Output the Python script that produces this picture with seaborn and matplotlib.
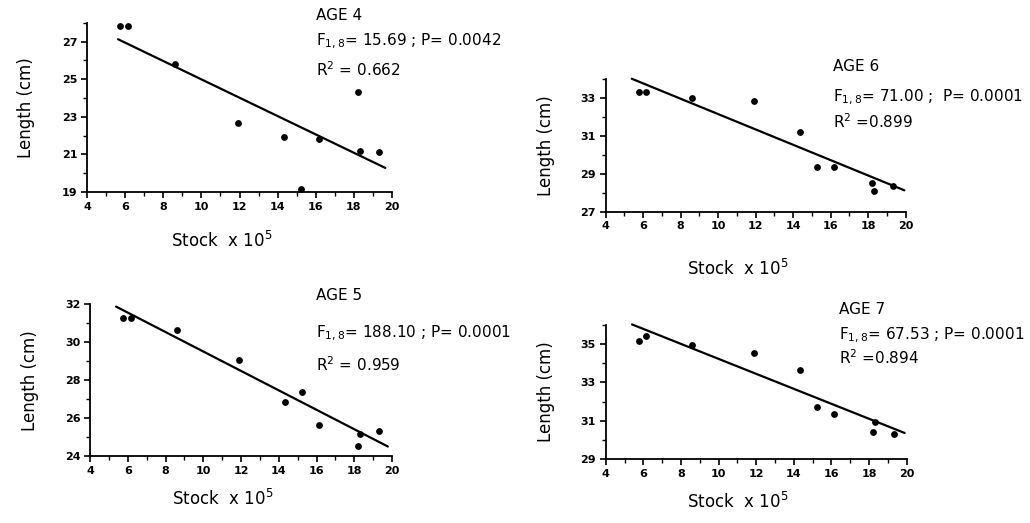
import matplotlib
matplotlib.use("Agg")
import matplotlib.pyplot as plt
from matplotlib.ticker import MultipleLocator
import seaborn as sns
import pandas as pd

sns.set_theme(style="ticks")
plt.rcParams['font.family'] = ['DejaVu Sans']
plt.rcParams['text.color'] = 'black'
plt.rcParams['axes.labelcolor'] = 'black'
plt.rcParams['xtick.color'] = 'black'
plt.rcParams['ytick.color'] = 'black'

# ---- data ----
stock = [5.75, 6.15, 8.6, 11.9, 14.35, 15.25, 16.15, 18.2, 18.3, 19.3]

length_age4 = [27.85, 27.85, 25.8, 22.65, 21.95, 19.15, 21.8, 24.3, 21.2, 21.1]
length_age5 = [31.3, 31.3, 30.65, 29.07, 26.84, 27.36, 25.63, 24.55, 25.16, 25.32]
length_age6 = [33.35, 33.35, 33.0, 32.86, 31.2, 29.37, 29.35, 28.51, 28.07, 28.37]
length_age7 = [35.17, 35.45, 34.93, 34.56, 33.67, 31.71, 31.36, 30.4, 30.93, 30.3]

fit_x_age4 = [5.63, 19.65]
fit_y_age4 = [27.12, 20.28]
fit_x_age5 = [5.38, 19.78]
fit_y_age5 = [31.88, 24.5]
fit_x_age6 = [5.39, 19.93]
fit_y_age6 = [34.03, 28.13]
fit_x_age7 = [5.4, 19.89]
fit_y_age7 = [36.03, 30.36]

titles = ["AGE 4", "AGE 6", "AGE 5", "AGE 7"]
f_texts = [r"F$_{1,8}$= 15.69 ; P= 0.0042",
           r"F$_{1,8}$= 71.00 ;  P= 0.0001",
           r"F$_{1,8}$= 188.10 ; P= 0.0001",
           r"F$_{1,8}$= 67.53 ; P= 0.0001"]
r2_texts = [r"R$^2$ = 0.662", r"R$^2$ =0.899", r"R$^2$ = 0.959", r"R$^2$ =0.894"]
ylims = [(19, 28), (27, 34), (24, 32), (29, 36)]
xlim = (4, 20)

lengths = [length_age4, length_age6, length_age5, length_age7]
fit_xs = [fit_x_age4, fit_x_age6, fit_x_age5, fit_x_age7]
fit_ys = [fit_y_age4, fit_y_age6, fit_y_age5, fit_y_age7]

# ---- layout ----
W, H = 1030, 523
fig = plt.figure(figsize=(W / 100, H / 100), dpi=100)
fig.patch.set_facecolor("white")

boxes_px = [  # left, right, top, bottom in pixels
    (87, 392, 22.7, 192),
    (605.7, 905.7, 79.3, 211.7),
    (90, 392, 304.3, 456),
    (605.7, 906.7, 325, 459),
]
text_pos = [  # x frac, y title, y F, y R2
    (0.751, 1.04, 0.888, 0.722),
    (0.758, 1.093, 0.866, 0.677),
    (0.748, 1.061, 0.811, 0.60),
    (0.775, 1.119, 0.925, 0.754),
]
xlabel_y = [-0.23, -0.355, -0.22, -0.245]

for i in range(4):
    l, r, t, b = boxes_px[i]
    ax = fig.add_axes([l / W, 1 - b / H, (r - l) / W, (b - t) / H])
    ax.set_facecolor("white")
    df = pd.DataFrame({"Stock": stock, "Length": lengths[i]})
    sns.scatterplot(data=df, x="Stock", y="Length", ax=ax, color="black",
                    s=24, edgecolor="black", linewidth=0, clip_on=False, zorder=3)
    fdf = pd.DataFrame({"x": fit_xs[i], "y": fit_ys[i]})
    sns.lineplot(data=fdf, x="x", y="y", ax=ax, color="black", linewidth=1.6,
                 clip_on=False)
    ax.set_xlim(*xlim)
    ax.set_ylim(*ylims[i])
    sns.despine(ax=ax)
    for sp in ["left", "bottom"]:
        ax.spines[sp].set_linewidth(1.3)
        ax.spines[sp].set_color("black")
    ax.xaxis.set_major_locator(MultipleLocator(2))
    ax.xaxis.set_minor_locator(MultipleLocator(1))
    ax.set_yticks(list(range(ylims[i][0], ylims[i][1] + 1, 2)))
    ax.yaxis.set_minor_locator(MultipleLocator(1))
    ax.tick_params(axis="both", which="major", direction="out", length=4,
                   width=1.2, color="black", labelcolor="black", labelsize=8, pad=3)
    ax.tick_params(axis="both", which="minor", direction="out", length=3,
                   width=1.0, color="black")
    for lab in ax.get_xticklabels() + ax.get_yticklabels():
        lab.set_fontweight("bold")
    ax.set_xlabel(r"Stock  x 10$^5$", fontsize=12, color="black")
    ax.set_ylabel("Length (cm)", fontsize=12, color="black")
    ax.xaxis.set_label_coords(0.44, xlabel_y[i])
    ax.yaxis.set_label_coords(-0.17, 0.5)
    xt, yt, yf, yr = text_pos[i]
    ax.text(xt, yt, titles[i], transform=ax.transAxes, fontsize=11, va="center", color="black")
    ax.text(xt, yf, f_texts[i], transform=ax.transAxes, fontsize=11, va="center", color="black")
    ax.text(xt, yr, r2_texts[i], transform=ax.transAxes, fontsize=11, va="center", color="black")

fig.savefig("out.png", dpi=100, facecolor="white")
